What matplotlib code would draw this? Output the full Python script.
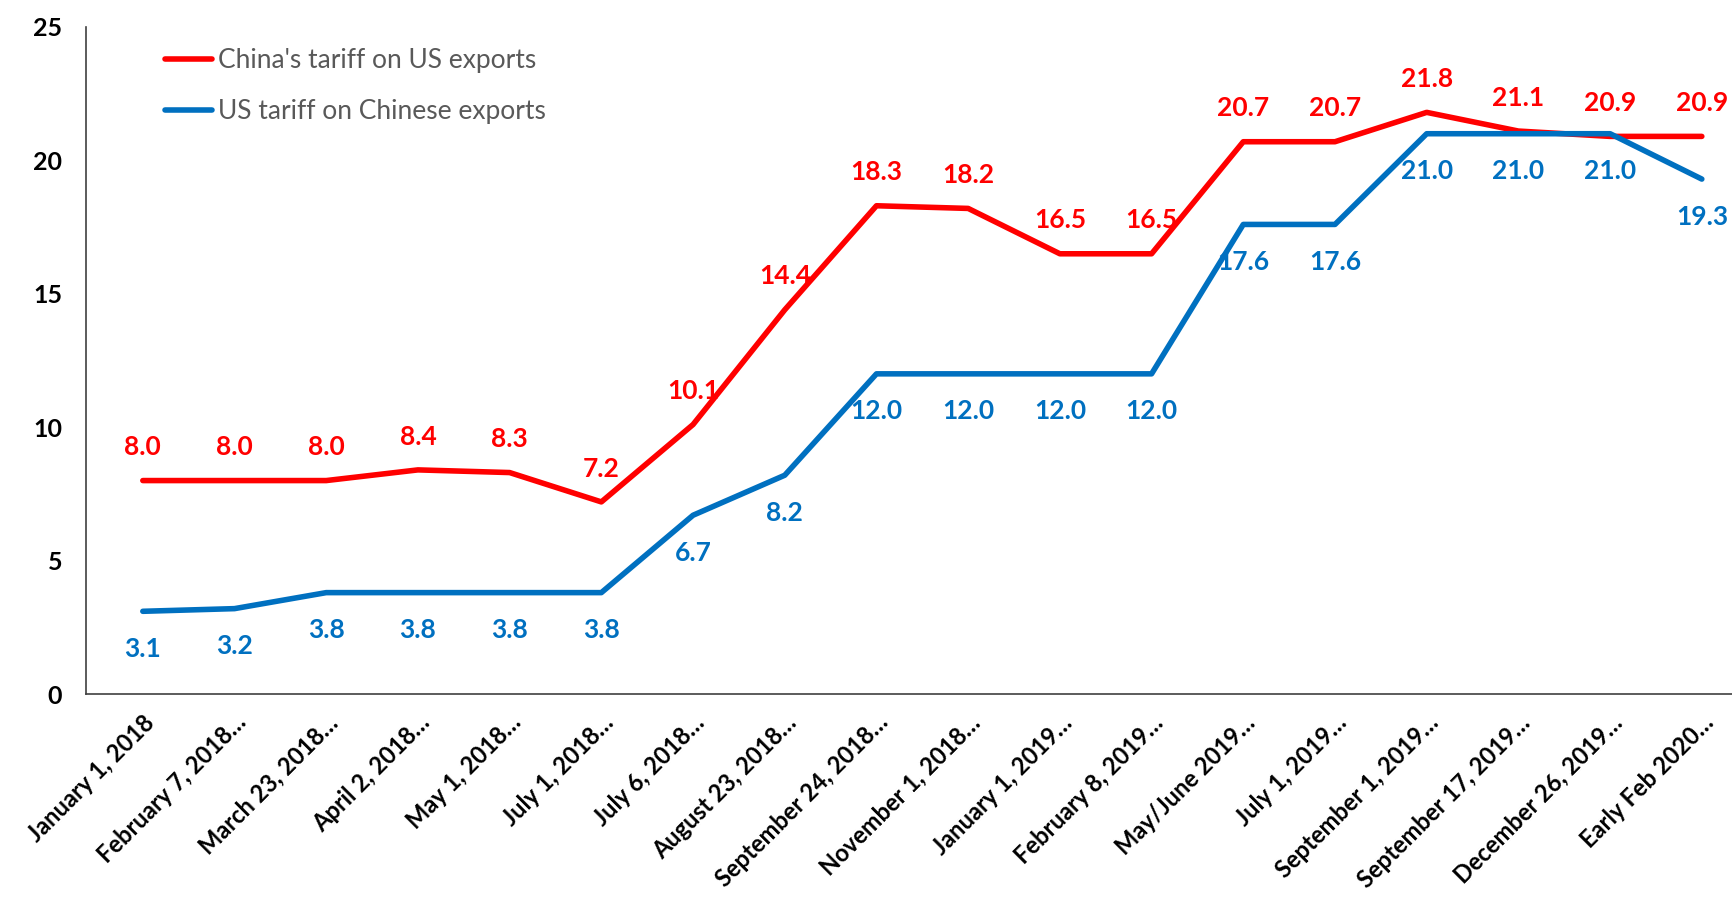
import matplotlib
matplotlib.use("Agg")
import matplotlib.pyplot as plt

plt.rcParams['font.family'] = ['Lato', 'DejaVu Sans']

dates = ["January 1, 2018", "February 7, 2018…", "March 23, 2018…", "April 2, 2018…",
         "May 1, 2018…", "July 1, 2018…", "July 6, 2018…", "August 23, 2018…",
         "September 24, 2018…", "November 1, 2018…", "January 1, 2019…",
         "February 8, 2019…", "May/June 2019…", "July 1, 2019…",
         "September 1, 2019…", "September 17, 2019…", "December 26, 2019…",
         "Early Feb 2020…"]
china_tariff = [8.0, 8.0, 8.0, 8.4, 8.3, 7.2, 10.1, 14.4, 18.3, 18.2, 16.5, 16.5,
                20.7, 20.7, 21.8, 21.1, 20.9, 20.9]
us_tariff = [3.1, 3.2, 3.8, 3.8, 3.8, 3.8, 6.7, 8.2, 12.0, 12.0, 12.0, 12.0,
             17.6, 17.6, 21.0, 21.0, 21.0, 19.3]

red = "#FF0000"
blue = "#0070C0"

fig = plt.figure(figsize=(17.33, 8.97), dpi=100)
ax = fig.add_axes([0.0496, 0.2263, 0.9504, 0.7436])

x = list(range(len(dates)))
ax.plot(x, china_tariff, color=red, lw=4, solid_capstyle='round',
        label="China's tariff on US exports")
ax.plot(x, us_tariff, color=blue, lw=4, solid_capstyle='round',
        label="US tariff on Chinese exports")

# data labels: red above, blue below
for xi, v in zip(x, china_tariff):
    ax.annotate(f"{v:.1f}", (xi, v), xytext=(0, 24), textcoords='offset points',
                ha='center', va='center', color=red, fontsize=19,
                fontweight='bold', clip_on=False)
for xi, v in zip(x, us_tariff):
    ax.annotate(f"{v:.1f}", (xi, v), xytext=(0, -27), textcoords='offset points',
                ha='center', va='center', color=blue, fontsize=19,
                fontweight='bold', clip_on=False)

ax.set_xlim(-0.62, 17.34)
ax.set_ylim(0, 25)
ax.set_yticks([0, 5, 10, 15, 20, 25])
ax.set_xticks(x)
ax.set_xticklabels(dates, rotation=45, ha='right', rotation_mode='anchor',
                   fontsize=17, fontweight='bold')
for lab in ax.get_yticklabels():
    lab.set_fontsize(18)
    lab.set_fontweight('bold')
ax.tick_params(axis='both', length=0)
ax.tick_params(axis='y', pad=17)
ax.tick_params(axis='x', pad=12)

for s in ['top', 'right']:
    ax.spines[s].set_visible(False)
for s in ['left', 'bottom']:
    ax.spines[s].set_color('#404040')
    ax.spines[s].set_linewidth(1.2)

leg = ax.legend(loc='upper left', bbox_to_anchor=(165 / 1733, 1 - 48 / 897),
                bbox_transform=fig.transFigure, frameon=False, fontsize=19,
                handlelength=1.8, handletextpad=0.2, labelspacing=1.0,
                borderpad=0, borderaxespad=0)
for t in leg.get_texts():
    t.set_color('#595959')

fig.savefig("out.png", dpi=100)
